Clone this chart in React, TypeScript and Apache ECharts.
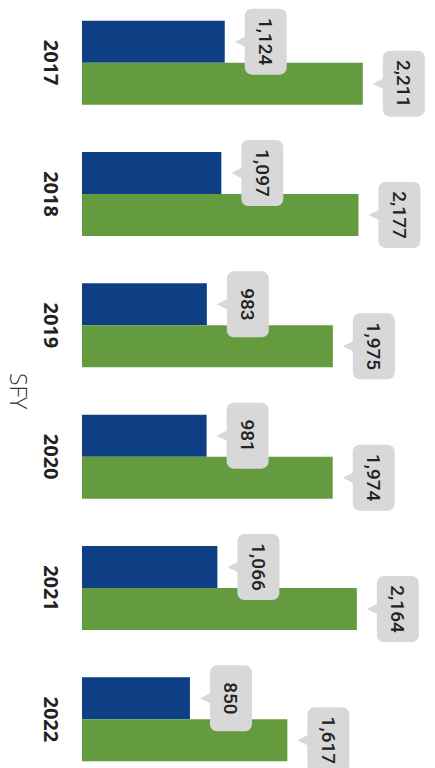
import React, { useEffect, useRef } from "react";
import * as echarts from "echarts";

const years = ["2017", "2018", "2019", "2020", "2021", "2022"];
const blueValues = [1124, 1097, 983, 981, 1066, 850];
const greenValues = [2211, 2177, 1975, 1974, 2164, 1617];
const axisName = "SFY";

const BLUE = "#0e3f85";
const GREEN = "#659b3f";
const BUBBLE = "#d8d8d8";
const BAR_W = 42;

export default function App() {
  const ref = useRef<HTMLDivElement>(null);

  useEffect(() => {
    if (!ref.current) return;
    const chart = echarts.init(ref.current, null, { renderer: "svg" });

    const labelData: number[][] = [];
    blueValues.forEach((v, i) => labelData.push([v, i, 0]));
    greenValues.forEach((v, i) => labelData.push([v, i, 1]));

    const renderItem = (params: any, api: any) => {
      const v = api.value(0);
      const ci = api.value(1);
      const s = api.value(2);
      const pt = api.coord([v, ci]);
      const xEnd = pt[0];
      const yc = pt[1] + (s === 0 ? -BAR_W / 2 : BAR_W / 2);
      return {
        type: "group",
        children: [
          {
            type: "polygon",
            shape: {
              points: [
                [xEnd + 10, yc],
                [xEnd + 22, yc - 6],
                [xEnd + 22, yc + 6],
              ],
            },
            style: { fill: BUBBLE },
          },
          {
            type: "rect",
            shape: { x: xEnd + 20, y: yc - 33, width: 42, height: 66, r: 7 },
            style: { fill: BUBBLE },
          },
          {
            type: "text",
            x: xEnd + 41,
            y: yc,
            rotation: -Math.PI / 2,
            style: {
              text: Number(v).toLocaleString("en-US"),
              align: "center",
              verticalAlign: "middle",
              fill: "#222",
              fontSize: 19,
              fontWeight: 500,
              fontFamily: "Roboto, 'Open Sans', sans-serif",
            },
          },
        ],
      };
    };

    chart.setOption({
      animation: false,
      backgroundColor: "#ffffff",
      grid: {
        left: 82,
        top: -3,
        height: 788,
        right: 35.5,
        containLabel: false,
        outerBoundsMode: "none",
      },
      xAxis: {
        type: "value",
        min: 0,
        max: 2500,
        show: false,
      },
      yAxis: {
        type: "category",
        data: years,
        inverse: true,
        axisLine: { show: false },
        axisTick: { show: false },
        splitLine: { show: false },
        axisLabel: {
          rotate: -90,
          margin: 21,
          fontSize: 20,
          fontWeight: "bold",
          color: "#222",
          fontFamily: "'Open Sans', sans-serif",
        },
        name: axisName,
        nameLocation: "middle",
        nameRotate: -90,
        nameGap: 52,
        nameTextStyle: {
          fontSize: 23,
          fontWeight: 300,
          color: "#333",
          fontFamily: "'Open Sans', sans-serif",
        },
      },
      series: [
        {
          type: "bar",
          data: blueValues,
          barWidth: BAR_W,
          barGap: "0%",
          itemStyle: { color: BLUE },
        },
        {
          type: "bar",
          data: greenValues,
          barWidth: BAR_W,
          barGap: "0%",
          itemStyle: { color: GREEN },
        },
        {
          type: "custom",
          renderItem,
          data: labelData,
          encode: { x: 0, y: 1 },
          z: 5,
        },
      ],
    });

    return () => chart.dispose();
  }, []);

  return (
    <div
      ref={ref}
      style={{ position: "fixed", left: 0, top: 0, width: 435, height: 768, background: "#fff" }}
    />
  );
}
